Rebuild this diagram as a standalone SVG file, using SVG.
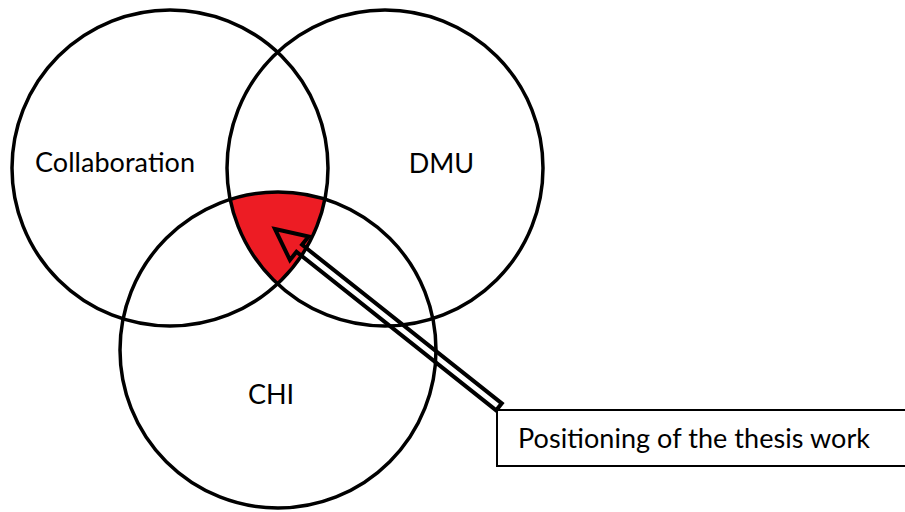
<svg xmlns="http://www.w3.org/2000/svg" width="905" height="512" viewBox="0 0 905 512">
<style>
.c{fill:none;stroke:#000;stroke-width:3.5}
.t{font-family:Lato,"Liberation Sans",sans-serif;font-size:27px;fill:#000}
.m{text-anchor:middle}
.box{fill:none;stroke:#000;stroke-width:2}
</style>
<defs>
<clipPath id="cl"><circle cx="170" cy="168" r="158"/></clipPath>
<clipPath id="cr"><circle cx="385" cy="168" r="158"/></clipPath>
</defs>
<rect width="905" height="512" fill="#fff"/>
<g id="intersection" clip-path="url(#cl)">
<g clip-path="url(#cr)">
<circle cx="278" cy="350" r="158" fill="#ED1C24"/>
</g>
</g>
<g id="collaboration">
<circle class="c" cx="170" cy="168" r="158"/>
<text class="t" x="35" y="172" textLength="160">Collaboration</text>
</g>
<g id="dmu">
<circle class="c" cx="385" cy="168" r="158"/>
<text class="t m" x="441.5" y="173">DMU</text>
</g>
<g id="chi">
<circle class="c" cx="278" cy="350" r="158"/>
<text class="t m" x="271" y="404">CHI</text>
</g>
<g id="connectors">
<polygon transform="translate(275,229) rotate(38.45)" points="0,0 31,-15 31,-4.5 286,-4.5 286,4.5 31,4.5 31,15" fill="none" stroke="#000" stroke-width="4" stroke-linejoin="miter" stroke-miterlimit="10"/>
</g>
<g id="label">
<polyline class="box" points="905,410 497,410 497,466 905,466"/>
<text class="t" x="518" y="448" textLength="352">Positioning of the thesis work</text>
</g>
</svg>
